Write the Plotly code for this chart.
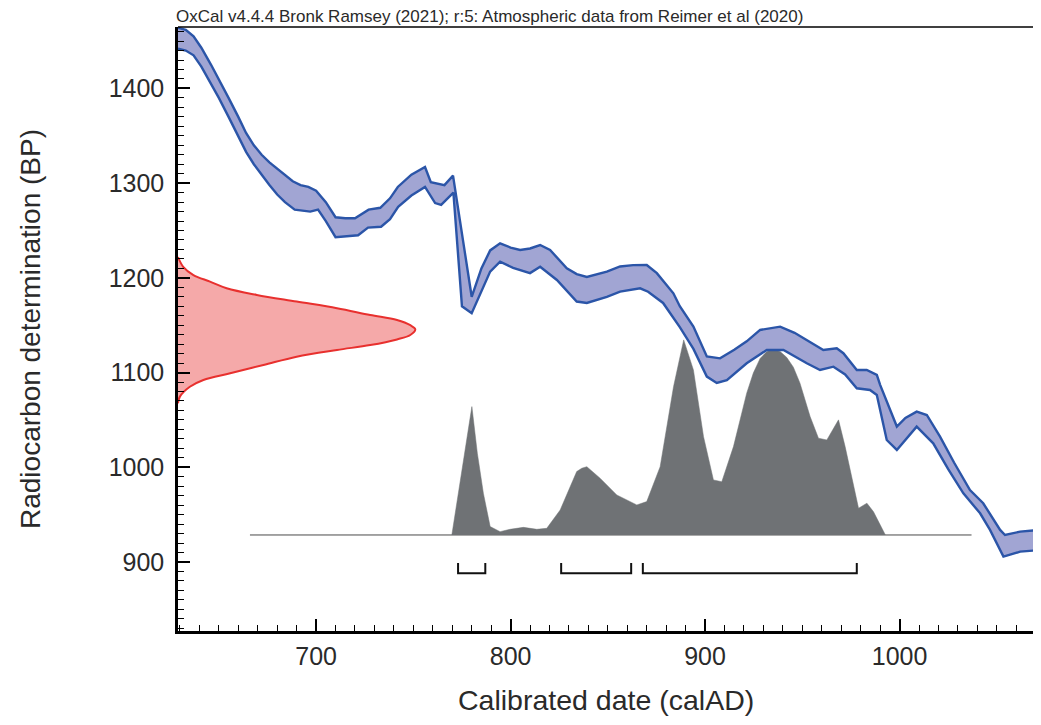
import plotly.graph_objects as go

# ---------------- data ----------------
# Calibration curve (IntCal20) : upper and lower bounds of the band
upper_year = [629, 633, 637, 641, 646, 650, 655, 660, 664, 668, 672, 676, 680, 684, 688, 692, 696, 700,
              705, 710, 715, 720, 727, 733, 738, 742, 749, 756, 759, 766, 770.4, 780, 785, 789.5, 794.6,
              800, 804.9, 810, 815.2, 820.3, 828.9, 834, 839.2, 849.5, 856.3, 863, 870, 875.2, 883.7,
              887, 894, 900.9, 907.7, 915, 921.4, 928.3, 938.6, 946, 952.3, 960.8, 967.7, 971.1, 978,
              983.1, 988.3, 990, 998.6, 1003, 1008.8, 1014, 1020.8, 1028, 1036.2, 1043, 1051.7, 1054.2,
              1062, 1073]
upper_bp = [1464, 1462, 1455, 1443, 1425, 1410, 1390, 1370, 1353, 1340, 1330, 1322, 1315, 1308, 1302,
            1298, 1296, 1292, 1280, 1264, 1263, 1263, 1272, 1274, 1284, 1296, 1309, 1317, 1301, 1298,
            1308, 1180, 1210, 1229, 1236.5, 1232, 1229.5, 1231, 1234.7, 1229.5, 1210, 1204, 1201,
            1206.5, 1212, 1213.5, 1213.6, 1205, 1183.7, 1170, 1148.5, 1117, 1115, 1124, 1133, 1145,
            1148.5, 1142, 1134.4, 1123.9, 1125.6, 1120.4, 1102.7, 1102.7, 1097.5, 1087, 1043, 1052,
            1058.7, 1055.2, 1032.3, 1005, 976, 962, 933.8, 928.5, 932, 934]
lower_year = [629, 633, 637, 641, 646, 650, 655, 660, 664, 668, 672, 676, 680, 684, 689, 697, 701,
              705, 710, 716, 721.6, 726.7, 733.4, 738, 742.2, 749, 756, 761.2, 764.3, 770.6, 775, 780,
              785, 789.5, 794.6, 801.3, 810, 815.2, 823.8, 829, 834, 839.2, 849.5, 856.3, 866.6, 870.7,
              878.4, 887, 894, 900.9, 906, 911.2, 921.4, 931.7, 940.3, 952.3, 959.1, 966, 972, 978,
              984.8, 988.3, 993.4, 998.6, 1008.8, 1017.3, 1025, 1032.8, 1041.4, 1046.5, 1053.4, 1062,
              1073]
lower_bp = [1442, 1440, 1435, 1423, 1405, 1390, 1370, 1350, 1333, 1320, 1309, 1298, 1288, 1280, 1272,
            1270, 1272, 1260, 1243, 1244, 1245, 1253, 1254, 1262, 1275, 1287, 1296, 1279, 1277, 1290,
            1170, 1162.6, 1185, 1206.6, 1217, 1210.5, 1205, 1211.7, 1197.8, 1186, 1175, 1173.5, 1180,
            1185.4, 1189, 1185.4, 1173.5, 1148, 1125, 1095.7, 1089, 1092, 1109.8, 1123.9, 1123.9,
            1109.8, 1102.7, 1106.2, 1098, 1083.4, 1081.6, 1076.3, 1028.8, 1018.3, 1042.9, 1025.3, 998,
            972.5, 951.4, 933.8, 905.6, 910.9, 912.7]

# Radiocarbon measurement (BP) : relative probability
meas_bp = [1222, 1211.7, 1203, 1196, 1189, 1182, 1175, 1168, 1160.8, 1155.5, 1150, 1145.7, 1139.7,
           1135, 1129, 1123.9, 1116.8, 1108, 1099.3, 1092.2, 1085, 1074.6, 1067.6]
meas_prob = [0, 0.022, 0.065, 0.135, 0.205, 0.332, 0.50, 0.67, 0.81, 0.923, 0.979, 1.0, 0.979, 0.923,
             0.81, 0.67, 0.50, 0.36, 0.22, 0.107, 0.05, 0.008, 0]

# Calibrated date (calAD) : relative probability
cal_year = [769.8, 775, 780.1, 782.9, 786, 789.5, 794.6, 799.7, 806.6, 813.5, 818.6, 825.5, 834, 836.6,
            839.2, 846, 854.6, 864.9, 870, 876.9, 883.8, 889, 894, 899.2, 904.3, 908.6, 914.6, 921.4,
            924.8, 928.3, 931.7, 935.1, 938.6, 942, 945.4, 948.8, 954, 958.3, 962.6, 968.6, 972, 978.9,
            983.2, 986.6, 992.7]
cal_prob = [0, 0.323, 0.658, 0.419, 0.214, 0.043, 0.017, 0.029, 0.039, 0.029, 0.034, 0.128, 0.325,
            0.342, 0.350, 0.291, 0.205, 0.154, 0.171, 0.350, 0.761, 1.0, 0.846, 0.504, 0.282, 0.273,
            0.453, 0.727, 0.83, 0.905, 0.94, 0.949, 0.94, 0.91, 0.86, 0.778, 0.607, 0.496, 0.487,
            0.590, 0.453, 0.137, 0.163, 0.119, 0]
cal_span = [666, 1037]

# 95.4% probability ranges (calAD)
range_start = [773, 826, 868]
range_end = [787, 862, 978]

title_text = "OxCal v4.4.4 Bronk Ramsey (2021); r:5: Atmospheric data from Reimer et al (2020)"
x_title = "Calibrated date (calAD)"
y_title = "Radiocarbon determination (BP)"

# ---------------- layout constants ----------------
X_RANGE = [629, 1068.6]
Y_RANGE = [827.1, 1464.9]
BASE_BP = 928.5          # baseline of the calibrated distribution
CAL_SCALE = 206          # BP units for probability 1
MEAS_SCALE = 122         # years for probability 1
BR_TOP, BR_BOT = 899, 888

fig = go.Figure()

# baseline of calibrated distribution
fig.add_trace(go.Scatter(x=cal_span, y=[BASE_BP, BASE_BP], mode="lines",
                         line=dict(color="#4a4a4a", width=1), hoverinfo="skip", showlegend=False))

# calibrated distribution (grey)
fig.add_trace(go.Scatter(x=cal_year, y=[BASE_BP + p * CAL_SCALE for p in cal_prob],
                         mode="lines", fill="toself", fillcolor="#6f7275",
                         line=dict(color="#6f7275", width=0.5), hoverinfo="skip", showlegend=False))

# calibration curve band
band_x = upper_year + lower_year[::-1]
band_y = upper_bp + lower_bp[::-1]
fig.add_trace(go.Scatter(x=band_x, y=band_y, mode="lines", fill="toself", fillcolor="#a1a5d3",
                         line=dict(color="#2b55a8", width=2.4, shape="linear"),
                         hoverinfo="skip", showlegend=False))

# measurement distribution (red)
x0 = X_RANGE[0]
fig.add_trace(go.Scatter(x=[x0 + p * MEAS_SCALE for p in meas_prob], y=meas_bp, mode="lines",
                         fill="toself", fillcolor="#f5a9a9", line=dict(color="#e8302e", width=2),
                         line_shape="spline", hoverinfo="skip", showlegend=False))

# range brackets
bx, by = [], []
for a, b in zip(range_start, range_end):
    bx += [a, a, b, b, None]
    by += [BR_TOP, BR_BOT, BR_BOT, BR_TOP, None]
fig.add_trace(go.Scatter(x=bx, y=by, mode="lines", line=dict(color="#111111", width=2),
                         hoverinfo="skip", showlegend=False))

font_family = "Liberation Sans, Arial, Helvetica, sans-serif"

fig.update_xaxes(range=X_RANGE, showgrid=False, zeroline=False, showline=True, linecolor="black",
                 linewidth=2.5, ticks="inside", ticklen=12, tickwidth=2, tickcolor="black",
                 tick0=0, dtick=100, ticklabelstandoff=1, automargin=False,
                 minor=dict(ticks="inside", ticklen=6, tickwidth=1.3, tickcolor="black", dtick=10),
                 tickfont=dict(size=25, color="#2a2a2a", family=font_family))
fig.update_yaxes(range=Y_RANGE, showgrid=False, zeroline=False, showline=True, linecolor="black",
                 linewidth=2.5, ticks="inside", ticklen=12, tickwidth=2, tickcolor="black",
                 tick0=0, dtick=100, ticklabelstandoff=6, automargin=False,
                 minor=dict(ticks="inside", ticklen=6, tickwidth=1.3, tickcolor="black", dtick=10),
                 tickfont=dict(size=25, color="#2a2a2a", family=font_family))

# axis titles
fig.add_annotation(text=x_title, xref="paper", yref="paper", x=0.5, y=0, xanchor="center",
                   yanchor="middle", yshift=-69, showarrow=False,
                   font=dict(size=28.5, color="#2a2a2a", family=font_family))
fig.add_annotation(text=y_title, xref="paper", yref="paper", x=0, y=0.5, xanchor="center",
                   yanchor="middle", xshift=-148, textangle=-90, showarrow=False,
                   font=dict(size=28, color="#2a2a2a", family=font_family))

fig.add_shape(type="line", xref="paper", yref="paper", x0=0, x1=1, y0=1, y1=1,
              line=dict(color="black", width=1.5), layer="above")

fig.add_annotation(text=title_text, xref="paper", yref="paper", x=0, y=1, xanchor="left",
                   yanchor="bottom", showarrow=False, xshift=-4, yshift=-1,
                   font=dict(size=17, color="#2a2a2a", family=font_family))

# the page adds an 8px body margin, so the figure is sized to fit inside the window
fig.update_layout(width=1025, height=709, margin=dict(l=170, r=0, t=19, b=86),
                  plot_bgcolor="white", paper_bgcolor="white", showlegend=False)

fig.write_html("out.html")
